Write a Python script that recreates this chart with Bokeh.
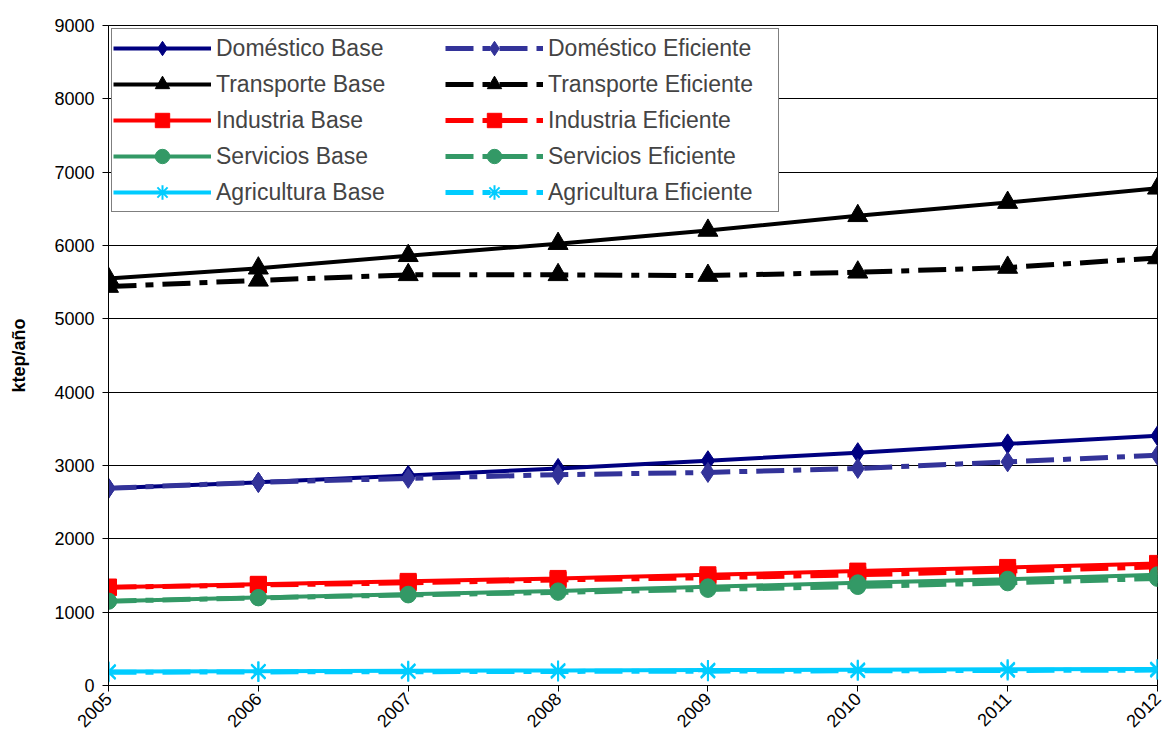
from math import pi
from bokeh.plotting import figure
from bokeh.models import Legend, LegendItem, Range1d, FixedTicker
from bokeh.embed import file_html
from bokeh.resources import INLINE

years = [2005, 2006, 2007, 2008, 2009, 2010, 2011, 2012]

domestico_base = [2690, 2770, 2865, 2960, 3065, 3175, 3295, 3405]
domestico_ef = [2690, 2770, 2825, 2875, 2905, 2960, 3050, 3140]
transporte_base = [5550, 5690, 5860, 6025, 6205, 6405, 6585, 6780]
transporte_ef = [5440, 5525, 5600, 5600, 5590, 5635, 5700, 5830]
industria_base = [1340, 1380, 1420, 1460, 1510, 1560, 1610, 1665]
industria_ef = [1340, 1370, 1400, 1440, 1470, 1510, 1560, 1620]
servicios_base = [1150, 1200, 1245, 1290, 1345, 1400, 1450, 1510]
servicios_ef = [1150, 1195, 1235, 1270, 1310, 1350, 1400, 1460]
agricultura_base = [190, 195, 200, 205, 210, 215, 220, 225]
agricultura_ef = [180, 185, 188, 192, 196, 200, 205, 210]

series = [
    ("Doméstico Base", domestico_base, "#000080", "diamond", 20, False),
    ("Doméstico Eficiente", domestico_ef, "#333399", "diamond", 20, True),
    ("Transporte Base", transporte_base, "#000000", "triangle", 20, False),
    ("Transporte Eficiente", transporte_ef, "#000000", "triangle", 20, True),
    ("Industria Base", industria_base, "#FF0000", "square", 16, False),
    ("Industria Eficiente", industria_ef, "#FF0000", "square", 16, True),
    ("Servicios Base", servicios_base, "#339966", "circle", 16, False),
    ("Servicios Eficiente", servicios_ef, "#339966", "circle", 16, True),
    ("Agricultura Base", agricultura_base, "#00CCFF", "asterisk", 20, False),
    ("Agricultura Eficiente", agricultura_ef, "#00CCFF", "asterisk", 20, True),
]

FONT = "Liberation Sans"

p = figure(width=1167, height=743, output_backend="svg", toolbar_location=None,
           x_range=Range1d(2005, 2012), y_range=Range1d(0, 9000),
           min_border_left=108, min_border_right=10, min_border_top=25, min_border_bottom=58)

p.outline_line_color = "black"
p.outline_line_width = 1
p.xgrid.visible = False
p.ygrid.grid_line_color = "black"
p.ygrid.grid_line_width = 1

p.yaxis.ticker = FixedTicker(ticks=list(range(0, 9001, 1000)))
p.xaxis.ticker = FixedTicker(ticks=years)
p.xaxis.major_label_orientation = pi / 4
p.axis.minor_tick_line_color = None
p.axis.major_tick_in = 0
p.axis.major_tick_out = 6
p.axis.axis_line_color = "black"
p.axis.major_tick_line_color = "black"
p.axis.major_label_text_font = FONT
p.axis.major_label_text_font_size = "18px"
p.axis.major_label_text_color = "black"
p.yaxis.major_label_standoff = 8
p.xaxis.major_label_standoff = 4
p.yaxis.axis_label = "ktep/año"
p.yaxis.axis_label_text_font = FONT
p.yaxis.axis_label_text_font_style = "bold"
p.yaxis.axis_label_text_font_size = "18px"
p.yaxis.axis_label_text_color = "black"
p.yaxis.axis_label_standoff = 22

items = {}
for name, vals, color, marker, size, eff in series:
    if eff:
        ln = p.line(years, vals, line_color=color, line_width=5, line_dash="28 9 8 9")
    else:
        ln = p.line(years, vals, line_color=color, line_width=4)
    if marker == "asterisk":
        sc = p.scatter(years, vals, marker=marker, size=size, line_color=color, line_width=2)
    else:
        sc = p.scatter(years, vals, marker=marker, size=size, fill_color=color, line_color=color)
    items[name] = LegendItem(label=name, renderers=[ln, sc])

base_names = [s[0] for s in series if not s[5]]
ef_names = [s[0] for s in series if s[5]]
legend = Legend(items=[items[n] for n in base_names + ef_names], ncols=2, location="top_left",
                glyph_width=98, glyph_height=36, label_standoff=5, label_width=229,
                spacing=0, padding=1, margin=3,
                label_text_font=FONT, label_text_font_size="23px",
                border_line_color="black", border_line_width=1,
                background_fill_color="white", background_fill_alpha=1)
p.add_layout(legend, "center")

open("out.html", "w").write(file_html(p, INLINE))
